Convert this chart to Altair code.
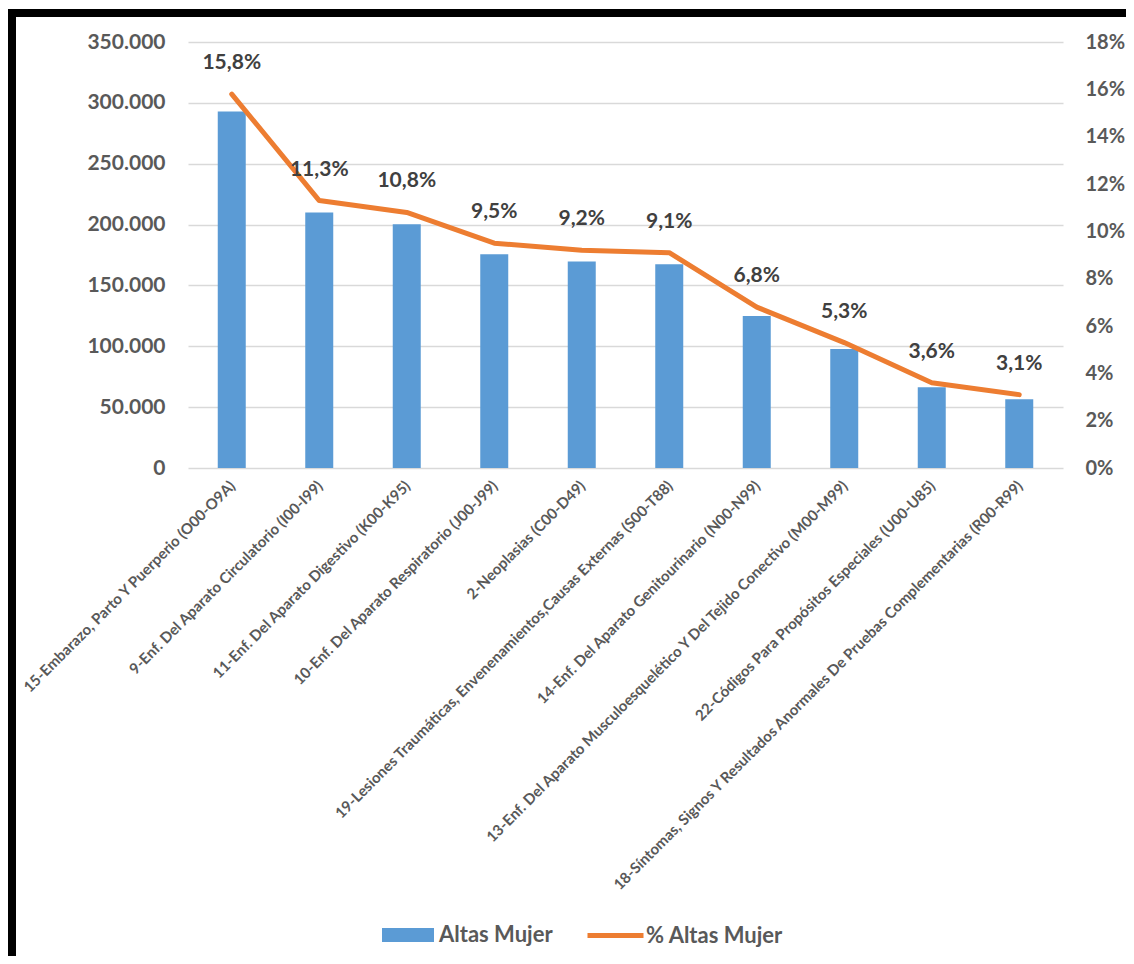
import altair as alt
import pandas as pd

categorias = [
    "15-Embarazo, Parto Y Puerperio (O00-O9A)",
    "9-Enf. Del Aparato Circulatorio (I00-I99)",
    "11-Enf. Del Aparato Digestivo (K00-K95)",
    "10-Enf. Del Aparato Respiratorio (J00-J99)",
    "2-Neoplasias (C00-D49)",
    "19-Lesiones Traumáticas, Envenenamientos,Causas Externas (S00-T88)",
    "14-Enf. Del Aparato Genitourinario (N00-N99)",
    "13-Enf. Del Aparato Musculoesquelético Y Del Tejido Conectivo (M00-M99)",
    "22-Códigos Para Propósitos Especiales (U00-U85)",
    "18-Síntomas, Signos Y Resultados Anormales De Pruebas Complementarias (R00-R99)",
]
altas = [292800, 210000, 200300, 175700, 169600, 167400, 124900, 97800, 66300, 56400]
pct = [15.8, 11.3, 10.8, 9.5, 9.2, 9.1, 6.8, 5.3, 3.6, 3.1]

serie_barra = "Altas Mujer"
serie_linea = "% Altas Mujer"

df = pd.DataFrame({"cat": categorias, "altas": altas, "pct": pct,
                   "sb": serie_barra, "sl": serie_linea})

FONT = "Lato"
GRAY = "#595959"
W, H = 875, 426

x = alt.X("cat:N", sort=categorias, title=None,
          scale=alt.Scale(paddingInner=0.68, paddingOuter=0.34),
          axis=alt.Axis(labelAngle=-45, labelFont=FONT, labelFontSize=15,
                        labelFontWeight="bold", labelColor=GRAY, labelPadding=10,
                        labelOffset=-4,
                        ticks=False, domain=False, grid=False, labelLimit=900,
                        labelOverlap=False))

bars = alt.Chart(df).mark_bar().encode(
    x=x,
    y=alt.Y("altas:Q", title=None,
            scale=alt.Scale(domain=[0, 350000], nice=False),
            axis=alt.Axis(orient="left", values=list(range(0, 350001, 50000)),
                          labelExpr="replace(format(datum.value, ',d'), ',', '.')",
                          grid=True, gridColor="#D9D9D9", gridWidth=1.5,
                          domain=False, ticks=False, labelFont=FONT,
                          labelFontSize=21, labelFontWeight="bold",
                          labelColor=GRAY, labelPadding=23)),
    color=alt.Color("sb:N", scale=alt.Scale(domain=[serie_barra], range=["#5B9BD5"]),
                    legend=alt.Legend(title=None, orient="none", legendX=194, legendY=867,
                                      padding=0, symbolType="M-1,-0.27H1V0.27H-1Z",
                                      symbolSize=2704, symbolStrokeWidth=0,
                                      labelFont=FONT, labelFontSize=22,
                                      labelFontWeight="bold", labelColor=GRAY,
                                      labelOffset=5)),
)

yp_scale = alt.Scale(domain=[0, 18], nice=False)

line = alt.Chart(df).mark_line(strokeWidth=5, strokeCap="round", strokeJoin="round").encode(
    x=x,
    y=alt.Y("pct:Q", title=None, scale=yp_scale,
            axis=alt.Axis(orient="right", values=list(range(0, 19, 2)),
                          labelExpr="datum.value + '%'", grid=False, domain=False,
                          ticks=False, labelFont=FONT, labelFontSize=20,
                          labelFontWeight="bold", labelColor=GRAY, labelPadding=22)),
    stroke=alt.Stroke("sl:N", scale=alt.Scale(domain=[serie_linea], range=["#ED7D31"]),
                      legend=alt.Legend(title=None, orient="none", legendX=397, legendY=863,
                                        padding=0, symbolType="stroke", symbolSize=3136,
                                        symbolStrokeWidth=5,
                                        labelFont=FONT, labelFontSize=22,
                                        labelFontWeight="bold", labelColor=GRAY,
                                        labelOffset=0)),
)

text = alt.Chart(df).transform_calculate(
    lab="replace(format(datum.pct, '.1f'), '.', ',') + '%'"
).mark_text(dy=-31, font=FONT, fontSize=21, fontWeight="bold", color="#404040").encode(
    x=x,
    y=alt.Y("pct:Q", scale=yp_scale, axis=None),
    text="lab:N",
)

frame_df = pd.DataFrame({"k": [0]})
top_border = alt.Chart(frame_df).mark_rule(color="black", strokeWidth=8).encode(
    x=alt.value(-180), x2=alt.value(950), y=alt.value(-29))
left_border = alt.Chart(frame_df).mark_rule(color="black", strokeWidth=8).encode(
    x=alt.value(-176), y=alt.value(-33), y2=alt.value(930))

chart = alt.layer(bars, line, text, top_border, left_border).resolve_scale(
    y="independent"
).properties(
    width=W, height=H,
    autosize=alt.AutoSizeParams(type="none"),
    padding={"left": 180, "top": 34, "right": 63, "bottom": 488},
).configure_view(stroke=None)

chart.save("out.html", embed_options={"renderer": "svg", "actions": False})
